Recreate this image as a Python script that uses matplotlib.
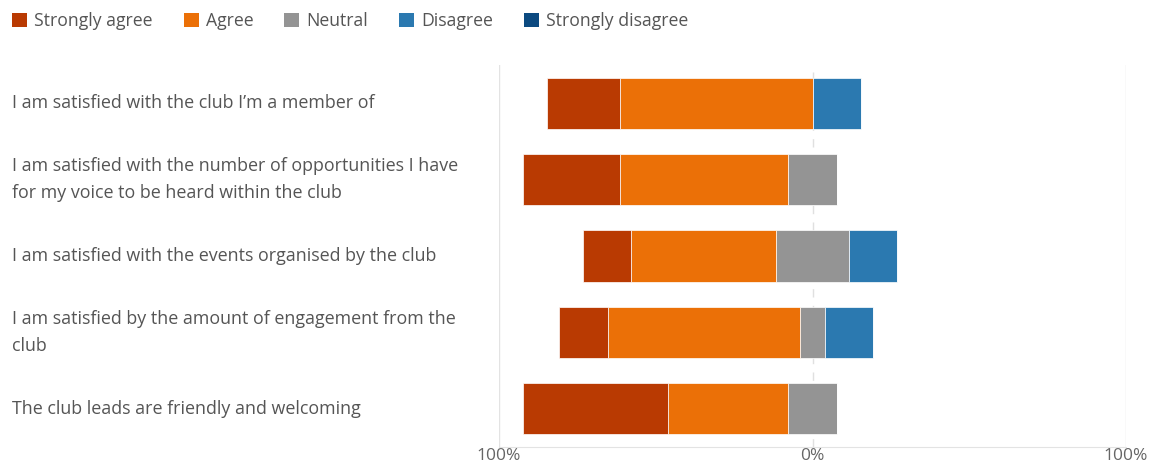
import matplotlib
matplotlib.use("Agg")
import matplotlib.pyplot as plt
import numpy as np
from matplotlib.patches import Patch

plt.rcParams['font.family'] = ['Open Sans', 'DejaVu Sans']

questions = [
    "I am satisfied with the club I\u2019m a member of",
    "I am satisfied with the number of opportunities I have\nfor my voice to be heard within the club",
    "I am satisfied with the events organised by the club",
    "I am satisfied by the amount of engagement from the\nclub",
    "The club leads are friendly and welcoming",
]
levels = ["Strongly agree", "Agree", "Neutral", "Disagree", "Strongly disagree"]
colors = ["#B93A02", "#EB7007", "#949494", "#2B79B0", "#0C4A80"]

# response percentages per question (13 respondents)
strongly_agree = [23.1, 30.8, 15.4, 15.4, 46.2]
agree = [61.5, 53.8, 46.2, 61.5, 38.5]
neutral = [0.0, 15.4, 23.1, 7.7, 15.4]
disagree = [15.4, 0.0, 15.4, 15.4, 0.0]
strongly_disagree = [0.0, 0.0, 0.0, 0.0, 0.0]

tick_values = [-100, 0, 100]
tick_labels = ["100%", "0%", "100%"]

fig = plt.figure(figsize=(11.51, 4.61), dpi=100)
ax = fig.add_axes([499 / 1151, 1 - 447 / 461, 627 / 1151, 382 / 461])

y = np.arange(len(questions))
sa = np.array(strongly_agree)
ag = np.array(agree)
ne = np.array(neutral)
di = np.array(disagree)
sd = np.array(strongly_disagree)

h = 0.67
edge = dict(edgecolor="#FFFFFF", linewidth=0.5)
# neutral is centred on zero; agreement stacks to the left, disagreement to the right
ax.barh(y, ne, left=-ne / 2, height=h, color=colors[2], **edge)
ax.barh(y, -ag, left=-ne / 2, height=h, color=colors[1], **edge)
ax.barh(y, -sa, left=-ne / 2 - ag, height=h, color=colors[0], **edge)
ax.barh(y, di, left=ne / 2, height=h, color=colors[3], **edge)
ax.barh(y, sd, left=ne / 2 + di, height=h, color=colors[4], **edge)

ax.set_xlim(-100, 100)
ax.set_ylim(len(questions) - 0.5, -0.5)

for v in (-100, 100):
    ax.axvline(v, color="#E3E3E3", linewidth=1, zorder=0)
ax.axvline(0, color="#E0E0E0", linewidth=1, linestyle=(0, (6, 6)), zorder=0)

for s in ("top", "left", "right"):
    ax.spines[s].set_visible(False)
ax.spines["bottom"].set_color("#E3E3E3")

ax.set_xticks(tick_values)
ax.set_xticklabels(tick_labels, color="#666666", fontsize=12.5)
ax.tick_params(axis="x", length=0, pad=0.5)
ax.set_yticks([])

# category labels, left aligned near the figure edge
fig.canvas.draw()
for yi, q in zip(y, questions):
    ypix = ax.transData.transform((0, yi))[1]
    fig.text(12 / 1151, ypix / fig.dpi / fig.get_figheight(), q,
             ha="left", va="center", fontsize=12.9, color="#555555",
             linespacing=1.66)

handles = [Patch(facecolor=c, edgecolor="none") for c in colors]
fig.legend(handles, levels, loc="upper left", bbox_to_anchor=(0.0, 1.0),
           ncol=5, frameon=False, fontsize=12.7, handlelength=0.85,
           handleheight=0.85, handletextpad=0.4, columnspacing=1.75,
           labelcolor="#555555", borderaxespad=0.3)

fig.savefig("out.png", dpi=100)
